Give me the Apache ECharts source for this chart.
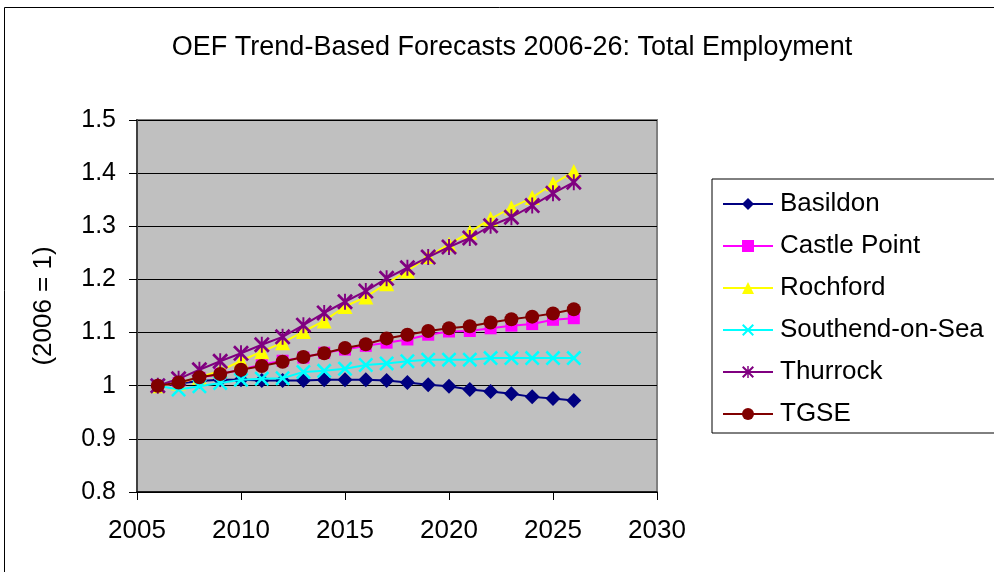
<!DOCTYPE html>
<html>
<head>
<meta charset="utf-8">
<script src="https://cdn.jsdelivr.net/npm/echarts@6/dist/echarts.min.js"></script>
<style>
html,body{margin:0;padding:0;background:#fff;}
#c{width:994px;height:572px;}
</style>
</head>
<body>
<div id="c"></div>
<script>
const years = [2006, 2007, 2008, 2009, 2010, 2011, 2012, 2013, 2014, 2015, 2016, 2017, 2018, 2019, 2020, 2021, 2022, 2023, 2024, 2025, 2026];
const basildon = [1.000, 1.004, 1.009, 1.011, 1.011, 1.010, 1.010, 1.010, 1.011, 1.011, 1.011, 1.010, 1.006, 1.002, 0.999, 0.993, 0.989, 0.985, 0.979, 0.976, 0.972];
const castlePoint = [1.000, 1.005, 1.015, 1.022, 1.030, 1.040, 1.047, 1.053, 1.062, 1.068, 1.075, 1.081, 1.087, 1.096, 1.102, 1.103, 1.108, 1.113, 1.116, 1.124, 1.127];
const rochford = [1.000, 1.005, 1.016, 1.028, 1.047, 1.064, 1.081, 1.102, 1.122, 1.149, 1.167, 1.192, 1.216, 1.243, 1.266, 1.289, 1.314, 1.335, 1.354, 1.380, 1.403];
const southend = [1.000, 0.993, 0.999, 1.005, 1.011, 1.013, 1.014, 1.026, 1.028, 1.032, 1.039, 1.042, 1.046, 1.049, 1.049, 1.049, 1.052, 1.052, 1.052, 1.052, 1.052];
const thurrock = [1.000, 1.013, 1.030, 1.046, 1.061, 1.077, 1.092, 1.114, 1.137, 1.158, 1.178, 1.202, 1.222, 1.242, 1.261, 1.278, 1.301, 1.317, 1.339, 1.362, 1.383];
const tgse = [1.000, 1.006, 1.016, 1.022, 1.030, 1.037, 1.045, 1.054, 1.061, 1.071, 1.078, 1.089, 1.096, 1.103, 1.108, 1.112, 1.119, 1.125, 1.130, 1.136, 1.144];

const seriesNames = ['Basildon', 'Castle Point', 'Rochford', 'Southend-on-Sea', 'Thurrock', 'TGSE'];
const seriesValues = [basildon, castlePoint, rochford, southend, thurrock, tgse];
const seriesColors = ['#000080', '#FF00FF', '#FFFF00', '#00FFFF', '#800080', '#800000'];

const xPath = 'path://M0,12 L12,0 L100,88 L88,100 Z M88,0 L100,12 L12,100 L0,88 Z';
const starPath = 'path://M0,12 L12,0 L100,88 L88,100 Z M88,0 L100,12 L12,100 L0,88 Z M44,0 L56,0 L56,100 L44,100 Z';
const symbols = ['diamond', 'rect', 'triangle', xPath, starPath, 'circle'];
const symbolSizes = [15, 12, 15, 15, 16, 14];

const FONT = "'Liberation Sans', Arial, sans-serif";

const chart = echarts.init(document.getElementById('c'), null, {renderer: 'canvas'});

const series = seriesNames.map((name, i) => ({
  name: name,
  type: 'line',
  data: years.map((y, j) => [y, seriesValues[i][j]]),
  symbol: symbols[i],
  symbolSize: symbolSizes[i],
  showAllSymbol: true,
  lineStyle: {color: seriesColors[i], width: 2},
  itemStyle: {color: seriesColors[i], borderWidth: 0},
  emphasis: {disabled: true},
  z: 2 + i,
  animation: false
}));

chart.setOption({
  animation: false,
  backgroundColor: '#ffffff',
  graphic: [{
    type: 'rect',
    shape: {x: 4.5, y: 7.5, width: 1100, height: 700},
    style: {fill: 'none', stroke: '#000', lineWidth: 1},
    silent: true,
    z: 0
  }],
  title: {
    text: 'OEF Trend-Based Forecasts 2006-26: Total Employment',
    left: 507,
    textAlign: 'center',
    top: 29,
    textStyle: {fontFamily: FONT, fontSize: 27, fontWeight: 'normal', color: '#000'}
  },
  legend: {
    orient: 'vertical',
    left: 712,
    top: 179,
    padding: [12, 40, 6, 10],
    itemGap: 16,
    itemWidth: 50,
    itemHeight: 15,
    borderColor: '#000',
    borderWidth: 1,
    backgroundColor: '#fff',
    textStyle: {fontFamily: FONT, fontSize: 26, color: '#000', lineHeight: 26, padding: [0, 0, 0, 2]},
    data: seriesNames
  },
  grid: {
    left: 137,
    right: 337,
    top: 120,
    bottom: 80,
    show: true,
    backgroundColor: '#C0C0C0',
    borderColor: '#808080',
    borderWidth: 2
  },
  xAxis: {
    type: 'value',
    min: 2005,
    max: 2030,
    interval: 5,
    axisLine: {show: true, onZero: false, lineStyle: {color: '#000', width: 1.5}},
    axisTick: {show: true, inside: false, length: 8, lineStyle: {color: '#000'}},
    axisLabel: {fontFamily: FONT, fontSize: 26, color: '#000', margin: 26, formatter: v => String(v)},
    splitLine: {show: false}
  },
  yAxis: {
    type: 'value',
    min: 0.8,
    max: 1.5,
    interval: 0.1,
    name: '(2006 = 1)',
    nameLocation: 'middle',
    nameGap: 80,
    nameTextStyle: {fontFamily: FONT, fontSize: 26, color: '#000'},
    axisLine: {show: true, lineStyle: {color: '#404040', width: 2}},
    axisTick: {show: true, inside: false, length: 8, lineStyle: {color: '#000'}},
    axisLabel: {fontFamily: FONT, fontSize: 25, color: '#000', margin: 21,
      formatter: v => String(Math.round(v * 10) / 10)},
    splitLine: {show: true, lineStyle: {color: '#000', width: 1}}
  },
  series: series
});
</script>
</body>
</html>
